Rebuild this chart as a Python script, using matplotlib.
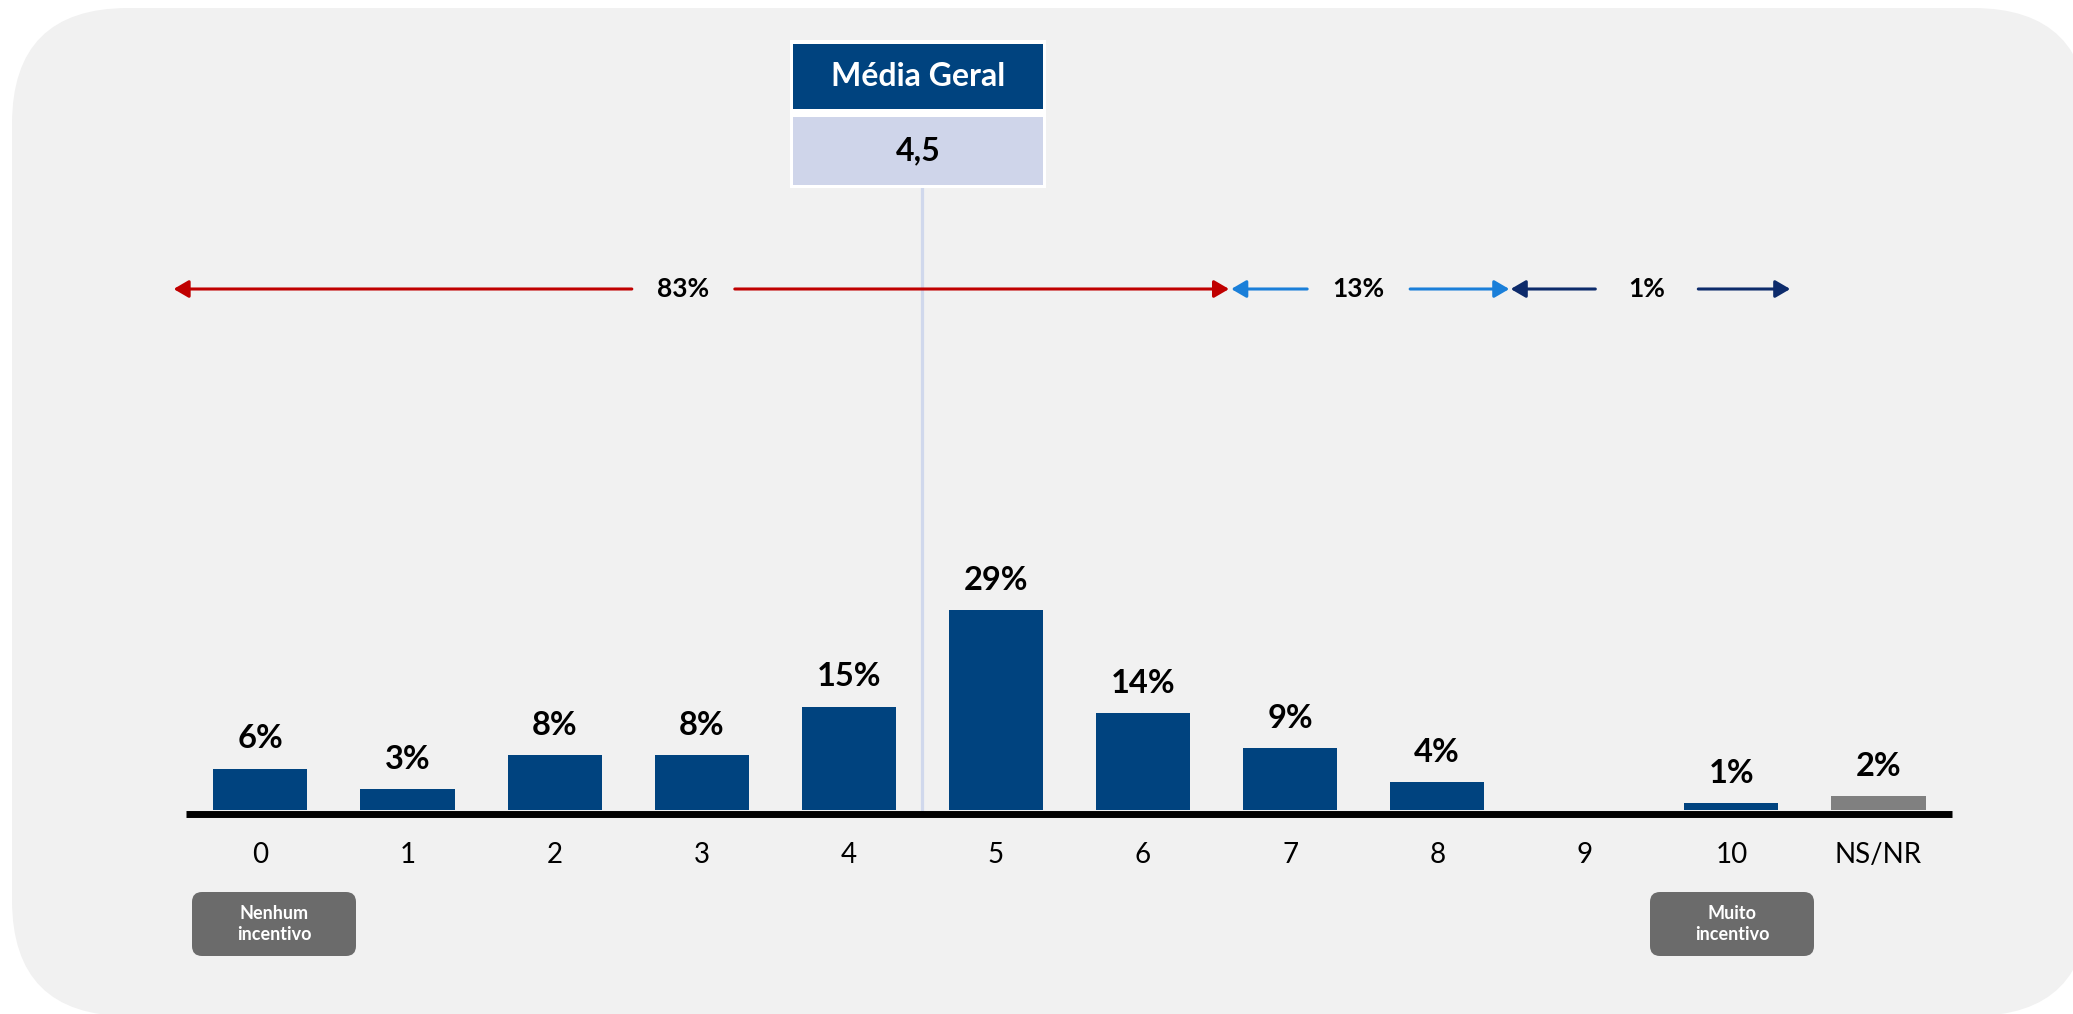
#!/usr/bin/env python3
# -*- coding: utf-8 -*-

import matplotlib
matplotlib.use('Agg')
import matplotlib.pyplot as plt
from matplotlib.patches import FancyBboxPatch, Rectangle
from matplotlib.transforms import IdentityTransform

# data
categories = ['0', '1', '2', '3', '4', '5', '6', '7', '8', '9', '10', 'NS/NR']
values     = [6, 3, 8, 8, 15, 29, 14, 9, 4, 0, 1, 2]
mean_value = 4.5
mean_label = '4,5'

# range arrows: label, start, end, label position (in category units)
range_labels = ['83%', '13%', '1%']
range_start  = [-0.59, 6.60, 8.50]
range_end    = [6.585, 8.49, 10.40]
range_textx  = [2.875, 7.466, 9.425]

NAVY   = '#00437f'
GREY   = '#808080'
BG     = '#f1f1f1'
ARROWC = ['#c00000', '#1a7fd9', '#0d2b6b']

W, H, DPI = 2073, 1014, 100
plt.rcParams['font.family'] = ['Lato', 'DejaVu Sans']

def main():
    fig = plt.figure(figsize=(W / DPI, H / DPI), dpi=DPI)
    fig.patch.set_facecolor('white')
    px = IdentityTransform()

    def top(y):  # pixel from top -> display y
        return H - y

    # rounded panel background (below the axes)
    fig.patches.append(FancyBboxPatch((12, top(1016)), 2089 - 12, 1016 - 8,
                                      boxstyle='round,pad=0,rounding_size=116',
                                      transform=px, facecolor=BG, edgecolor='none',
                                      zorder=-5))

    ax = fig.add_axes([0, 0, 1, 1])
    ax.set_facecolor('none')
    ax.axis('off')
    # 147.1 px per category, bar 0 centre at x=260 px; 6.9 px per percent, y=0 at 810 px from top
    ax.set_xlim(-260.4 / 147.1, (W - 260.4) / 147.1)
    ax.set_ylim(-204 / 6.897, (H - 204) / 6.897)

    xs = list(range(len(categories)))
    colors = [NAVY] * (len(categories) - 1) + [GREY]
    ax.bar(xs, values, width=0.64, color=colors, zorder=2)

    # baseline
    ax.plot([-0.503, 11.50], [-0.51, -0.51], color='black', lw=5.0,
            solid_capstyle='butt', zorder=4)

    for x, v, c in zip(xs, values, categories):
        if v > 0:
            ax.annotate(f'{v}%', (x, v), xytext=(0, 14.5), textcoords='offset points',
                        ha='center', va='baseline', fontsize=23.5, fontweight='bold',
                        color='black', zorder=5)
        ax.text(x, -6.52, c, ha='center', va='center', fontsize=20, color='black')

    # mean line
    ax.plot([mean_value, mean_value], [0, (H - 185 - 204) / 6.897], color='#d0d8ec',
            lw=2.3, zorder=3)

    # mean box
    fig.patches.append(Rectangle((790, top(188)), 256, 148, transform=px,
                                 facecolor='white', edgecolor='none', zorder=6))
    fig.patches.append(Rectangle((793, top(109)), 250, 65, transform=px,
                                 facecolor=NAVY, edgecolor='none', zorder=7))
    fig.patches.append(Rectangle((793, top(185)), 250, 68, transform=px,
                                 facecolor='#cfd5ea', edgecolor='none', zorder=7))
    fig.text(918 / W, top(77) / H, 'Média Geral', ha='center', va='center',
             fontsize=23, fontweight='bold', color='white', zorder=8)
    fig.text(918 / W, top(151) / H, mean_label, ha='center', va='center',
             fontsize=23, fontweight='bold', color='black', zorder=8)

    # range arrows
    ya = (H - 289 - 204) / 6.897
    half_gap = 0.35
    for lab, s, e, tx, col in zip(range_labels, range_start, range_end, range_textx, ARROWC):
        for a, b in [(tx - half_gap, s), (tx + half_gap, e)]:
            ax.annotate('', xy=(b, ya), xytext=(a, ya),
                        arrowprops=dict(arrowstyle='-|>,head_length=0.6,head_width=0.35',
                                        color=col, lw=2.2, shrinkA=0, shrinkB=0,
                                        mutation_scale=15), zorder=3)
        ax.text(tx, ya, lab, ha='center', va='center', fontsize=19,
                fontweight='bold', color='black', zorder=5)

    # scale end labels
    for cx, txt in [(274, 'Nenhum\nincentivo'), (1732, 'Muito\nincentivo')]:
        fig.patches.append(FancyBboxPatch((cx - 82, top(956)), 164, 64,
                                          boxstyle='round,pad=0,rounding_size=10',
                                          transform=px, facecolor='#6b6b6b',
                                          edgecolor='none', zorder=6))
        fig.text(cx / W, top(924) / H, txt, ha='center', va='center', fontsize=13,
                 fontweight='bold', color='white', linespacing=1.25, zorder=8)

    fig.savefig('out.png', dpi=DPI, facecolor='white')

if __name__ == '__main__':
    main()
